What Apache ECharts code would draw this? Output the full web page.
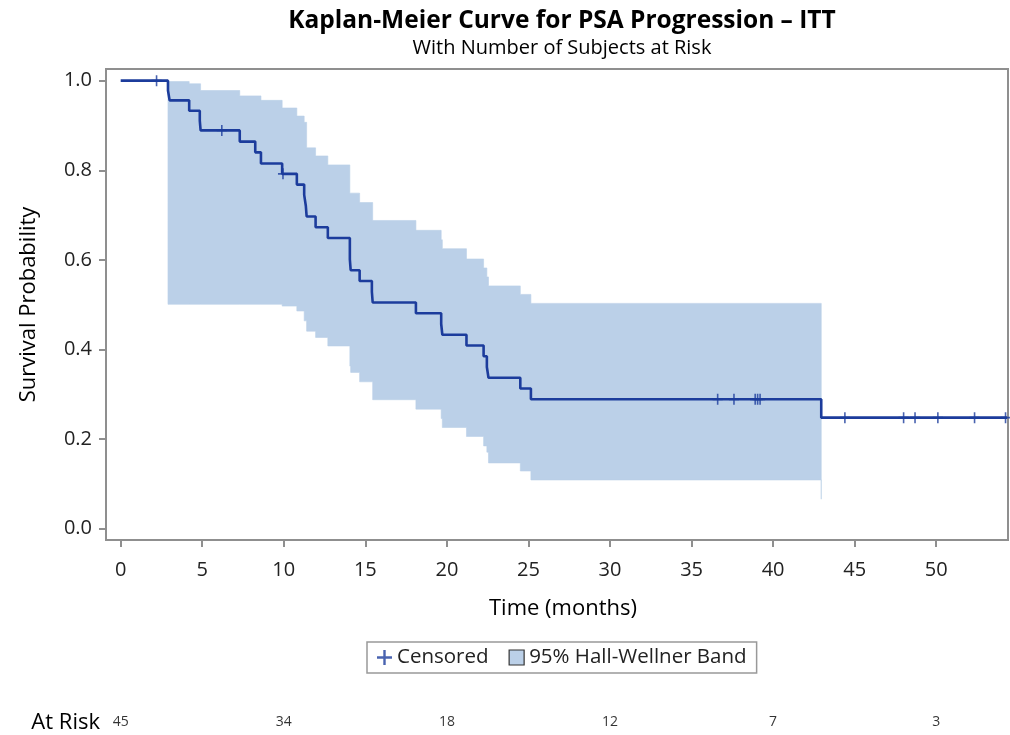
<!DOCTYPE html>
<html>
<head>
<meta charset="utf-8">
<title>Kaplan-Meier Curve for PSA Progression</title>
<script src="https://cdn.jsdelivr.net/npm/echarts@6.0.0/dist/echarts.min.js"></script>
<style>
  html, body { margin: 0; padding: 0; background: #fff; }
  #main { width: 1010px; height: 735px; }
</style>
</head>
<body>
<div id="main"></div>
<script>
// KM step curve (survival changes at each time)
const kmTime = [0, 2.9, 3.0, 4.2, 4.85, 4.9, 7.3, 8.25, 8.6, 9.9, 10.8, 11.25, 11.35, 11.4, 11.95, 12.7,
  14.05, 14.1, 14.65, 15.4, 15.45, 18.1, 19.65, 19.72, 21.2, 22.25, 22.45, 22.55, 24.5, 25.15, 42.95, 54.35];
const kmSurv = [1, 0.978, 0.956, 0.933, 0.911, 0.889, 0.864, 0.840, 0.815, 0.792, 0.768, 0.745, 0.721, 0.697, 0.673, 0.649,
  0.601, 0.577, 0.553, 0.529, 0.505, 0.481, 0.457, 0.433, 0.409, 0.385, 0.361, 0.337, 0.313, 0.289, 0.248, 0.248];

// censored subjects
const censTime = [2.2, 6.2, 9.95, 36.6, 37.6, 38.9, 39.05, 39.2, 44.4, 48.0, 48.7, 50.1, 52.35, 54.25];
const censSurv = [1, 0.889, 0.792, 0.289, 0.289, 0.289, 0.289, 0.289, 0.248, 0.248, 0.248, 0.248, 0.248, 0.248];

// 95% Hall-Wellner band
const bandTime = [2.9, 4.2, 4.9, 7.3, 8.6, 9.9, 10.8, 11.25, 11.4, 11.95, 12.7, 14.05, 14.1, 14.65, 15.45,
  18.1, 19.65, 19.72, 21.2, 22.25, 22.45, 22.55, 24.5, 25.15, 42.95];
const bandUpper = [0.998, 0.993, 0.978, 0.966, 0.956, 0.939, 0.921, 0.907, 0.850, 0.832, 0.812, 0.749, 0.749, 0.728, 0.688,
  0.666, 0.645, 0.625, 0.602, 0.582, 0.562, 0.542, 0.523, 0.503, 0.503];
const bandLower = [0.501, 0.501, 0.501, 0.501, 0.501, 0.497, 0.486, 0.464, 0.441, 0.427, 0.408, 0.363, 0.349, 0.328, 0.288,
  0.267, 0.246, 0.226, 0.206, 0.185, 0.171, 0.147, 0.129, 0.109, 0.066];

// number at risk
const riskTime = [0, 10, 20, 30, 40, 50];
const riskCount = [45, 34, 18, 12, 7, 3];

const xTicks = [0, 5, 10, 15, 20, 25, 30, 35, 40, 45, 50];
const yTicks = [0, 0.2, 0.4, 0.6, 0.8, 1.0];

const lineColor = '#1c3c9c';
const bandColor = '#bbd0e8';
const frameColor = '#8f8f8f';
const font = 'Open Sans';
const plusPath = 'path://M4.2,0 H5.8 V4.2 H10 V5.8 H5.8 V10 H4.2 V5.8 H0 V4.2 H4.2 Z';

const myChart = echarts.init(document.getElementById('main'));

// band drawn as one step polygon: upper edge forward, lower edge back
const renderBand = (params, api) => {
  if (params.dataIndex !== 0) return;
  const n = bandTime.length;
  const pts = [];
  for (let i = 0; i < n; i++) {
    pts.push(api.coord([bandTime[i], bandUpper[i]]));
    if (i < n - 1) pts.push(api.coord([bandTime[i + 1], bandUpper[i]]));
  }
  for (let i = n - 1; i >= 0; i--) {
    if (i < n - 1) pts.push(api.coord([bandTime[i + 1], bandLower[i]]));
    pts.push(api.coord([bandTime[i], bandLower[i]]));
  }
  return {
    type: 'polygon',
    shape: { points: pts },
    style: { fill: bandColor, stroke: bandColor, lineWidth: 0.6 }
  };
};

const option = {
  animation: false,
  textStyle: { fontFamily: font },
  title: {
    text: 'Kaplan-Meier Curve for PSA Progression – ITT',
    subtext: 'With Number of Subjects at Risk',
    left: 557,
    top: 4,
    textAlign: 'center',
    itemGap: 4,
    textStyle: { fontFamily: font, fontSize: 24.5, fontWeight: 'bold', color: '#000' },
    subtextStyle: { fontFamily: font, fontSize: 20, color: '#000' }
  },
  legend: {
    left: 367,
    top: 642,
    padding: [5, 10],
    itemGap: 20,
    itemWidth: 15,
    itemHeight: 15,
    borderColor: '#999',
    borderWidth: 1.5,
    textStyle: { fontFamily: font, fontSize: 20.5, color: '#222' },
    data: [
      { name: 'Censored', icon: plusPath, itemStyle: { color: lineColor } },
      { name: '95% Hall-Wellner Band', icon: 'rect', itemStyle: { color: bandColor, borderColor: '#333', borderWidth: 1.2 } }
    ]
  },
  grid: [
    { left: 106, right: 2, top: 69, bottom: 195, show: true, borderColor: frameColor, borderWidth: 2 },
    { left: 106, right: 2, top: 710, height: 26 }
  ],
  xAxis: [
    {
      type: 'value', min: -0.9, max: 54.4,
      name: 'Time (months)', nameLocation: 'middle', nameGap: 58,
      nameTextStyle: { fontFamily: font, fontSize: 22, color: '#000', padding: [0, 0, 0, 12] },
      axisLine: { show: false, onZero: false },
      splitLine: { show: false },
      axisTick: { show: true, length: 7, customValues: xTicks, lineStyle: { color: frameColor, width: 2 } },
      axisLabel: { customValues: xTicks, margin: 20, fontSize: 20, color: '#222' }
    },
    { gridIndex: 1, type: 'value', min: -0.9, max: 54.4, show: false }
  ],
  yAxis: [
    {
      type: 'value', min: -0.025, max: 1.026,
      name: 'Survival Probability', nameLocation: 'middle', nameGap: 66,
      nameTextStyle: { fontFamily: font, fontSize: 22, color: '#000' },
      axisLine: { show: false, onZero: false },
      splitLine: { show: false },
      axisTick: { show: true, length: 7, customValues: yTicks, lineStyle: { color: frameColor, width: 2 } },
      axisLabel: { customValues: yTicks, margin: 14, fontSize: 20, color: '#222', formatter: v => v.toFixed(1) }
    },
    {
      gridIndex: 1, type: 'category', data: ['At Risk'],
      axisLine: { show: false }, axisTick: { show: false },
      axisLabel: { margin: 6, fontSize: 22, color: '#000' }
    }
  ],
  series: [
    {
      name: '95% Hall-Wellner Band', type: 'custom', silent: true, z: 1,
      renderItem: renderBand,
      itemStyle: { color: bandColor },
      data: bandTime.map((t, i) => [t, bandLower[i], bandUpper[i]])
    },
    {
      name: 'Survival', type: 'line', step: 'end', symbol: 'none', z: 3,
      lineStyle: { color: lineColor, width: 2.6 },
      data: kmTime.map((t, i) => [t, kmSurv[i]])
    },
    {
      name: 'Censored', type: 'scatter', z: 4,
      symbol: plusPath, symbolSize: [10, 11],
      itemStyle: { color: lineColor },
      data: censTime.map((t, i) => [t, censSurv[i]])
    },
    {
      name: 'atRisk', type: 'scatter', xAxisIndex: 1, yAxisIndex: 1,
      symbolSize: 1, itemStyle: { color: 'transparent' },
      label: { show: true, position: 'inside', fontSize: 14, color: '#000', formatter: p => p.value[2] },
      data: riskTime.map((t, i) => [t, 0, riskCount[i]])
    }
  ]
};

myChart.setOption(option);
</script>
</body>
</html>
